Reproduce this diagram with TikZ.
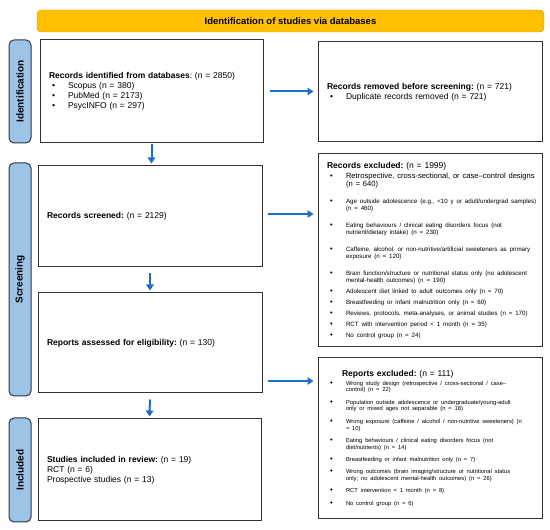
\documentclass[tikz,border=0pt]{standalone}
\usepackage{fontspec}
\setmainfont{Liberation Sans}
\usepackage{enumitem}
\usetikzlibrary{arrows.meta}

\definecolor{bannergold}{RGB}{255,192,0}
\definecolor{bannerline}{RGB}{200,150,30}
\definecolor{stageblue}{RGB}{157,195,230}
\definecolor{stageline}{RGB}{45,55,70}
\definecolor{flowblue}{RGB}{28,110,200}

\newcommand{\hfs}{\fontsize{8.5}{10}\selectfont}
\newcommand{\xfs}{\fontsize{6.2}{7}\selectfont}
\newcommand{\rfs}{\fontsize{5.8}{6.8}\selectfont}

\setlist[itemize]{topsep=0pt,partopsep=0pt,parsep=0pt,itemsep=0pt,leftmargin=19pt,rightmargin=-12pt,labelwidth=12pt,labelsep=4pt,align=left,label=\textbullet,before=\raggedright}

\tikzset{
  stage/.style={draw=stageline,fill=stageblue,line width=1pt,rounded corners=5pt,rotate=90,inner sep=0pt,minimum height=22pt,font=\bfseries\fontsize{10}{12}\selectfont},
  prismabox/.style={draw=black!80,line width=1pt,inner xsep=9pt,inner ysep=0pt,align=left,font=\hfs\frenchspacing},
  flow/.style={draw=flowblue,line width=2pt,-{Triangle[length=6pt,width=7.5pt]}}
}

\begin{document}
\frenchspacing
\begin{tikzpicture}[x=1pt,y=1pt]
\useasboundingbox (0,0) rectangle (550,530);
\node[draw=bannerline,fill=bannergold,rounded corners=4pt,minimum width=507pt,minimum height=22pt,inner sep=0pt,font=\bfseries\fontsize{9.5}{11}\selectfont] (banner) at (290.5,509) {Identification of studies via databases};

\node[stage,minimum width=103pt] (idlab) at (20,438.5) {Identification};
\node[stage,minimum width=233pt] (sclab) at (20,250.5) {Screening};
\node[stage,minimum width=104pt] (inlab) at (20,60) {Included};

\node[prismabox,text width=205pt,minimum height=103pt] (ident) at (151.5,438.5) {\textbf{Records identified from databases}: (n = 2850)
\begin{itemize}
\item Scopus (n = 380)
\item PubMed (n = 2173)
\item PsycINFO (n = 297)
\end{itemize}};

\node[prismabox,text width=206pt,minimum height=100pt] (removed) at (430,438) {\textbf{Records removed before screening:} (n = 721)
\begin{itemize}
\item Duplicate records removed (n = 721)
\end{itemize}};

\node[prismabox,text width=206pt,minimum height=101pt] (screen) at (150,313.5) {\textbf{Records screened:} (n = 2129)};

\node[prismabox,text width=206pt,minimum height=193pt] (excl) at (430,279.5) {\textbf{Records excluded:} (n = 1999)
\begin{itemize}[topsep=1.5pt,itemsep=4pt,label={\fontsize{7.5}{7.5}\selectfont\textbullet}]\xfs
\item {\fontsize{7.6}{8.5}\selectfont Retrospective, cross-sectional, or case–control designs\newline (n = 640)\par}
\vspace{6pt}
\item Age outside adolescence (e.g., <10 y or adult/undergrad samples)\newline (n = 460)
\vspace{6pt}
\item Eating behaviours / clinical eating disorders focus (not\newline nutrient/dietary intake) (n = 230)
\vspace{6pt}
\item Caffeine, alcohol, or non-nutritive/artificial sweeteners as primary\newline exposure (n = 120)
\vspace{6pt}
\item Brain function/structure or nutritional status only (no adolescent\newline mental-health outcomes) (n = 190)
\item Adolescent diet linked to adult outcomes only (n = 70)
\item Breastfeeding or infant malnutrition only (n = 60)
\item Reviews, protocols, meta-analyses, or animal studies (n = 170)
\item RCT with intervention period < 1 month (n = 35)
\item No control group (n = 24)
\end{itemize}};

\node[prismabox,text width=206pt,minimum height=100pt] (assess) at (150,187) {\textbf{Reports assessed for eligibility:} (n = 130)};

\node[prismabox,text width=206pt,minimum height=161pt] (rexcl) at (430,91.5) {\hspace*{15pt}\textbf{Reports excluded:} (n = 111)
\begin{itemize}[topsep=1.5pt,itemsep=5.5pt,label={\fontsize{7.5}{7.5}\selectfont\textbullet}]\rfs
\item Wrong study design (retrospective / cross-sectional / case–\newline control) (n = 22)
\item Population outside adolescence or undergraduate/young-adult\newline only or mixed ages not separable (n = 18)
\item Wrong exposure (caffeine / alcohol / non-nutritive sweeteners) (n\newline = 10)
\item Eating behaviours / clinical eating disorders focus (not\newline diet/nutrients) (n = 14)
\item Breastfeeding or infant malnutrition only (n = 7)
\item Wrong outcomes (brain imaging/structure or nutritional status\newline only; no adolescent mental-health outcomes) (n = 26)
\item RCT intervention < 1 month (n = 8)
\item No control group (n = 6)
\end{itemize}};

\node[prismabox,text width=205pt,minimum height=102pt] (incl) at (149.5,60) {\textbf{Studies included in review:} (n = 19)\\
RCT (n = 6)\\
Prospective studies (n = 13)};

\draw[flow,shorten >=4pt] ([xshift=6pt]ident.east) -- (ident.east -| removed.west);
\coordinate (scr) at ([xshift=5pt,yshift=2.5pt]screen.east);
\draw[flow,shorten >=4pt] (scr) -- (scr -| excl.west);
\coordinate (ass) at ([xshift=5pt,yshift=-38pt]assess.east);
\draw[flow,shorten >=4pt] (ass) -- (ass -| rexcl.west);
\draw[flow,shorten <=1pt,shorten >=2pt] (ident.south) -- (ident.south |- screen.north);
\draw[flow,shorten <=6pt,shorten >=2pt] (screen.south) -- (assess.north);
\draw[flow,shorten <=6pt,shorten >=2pt] (assess.south) -- (incl.north);
\end{tikzpicture}
\end{document}
